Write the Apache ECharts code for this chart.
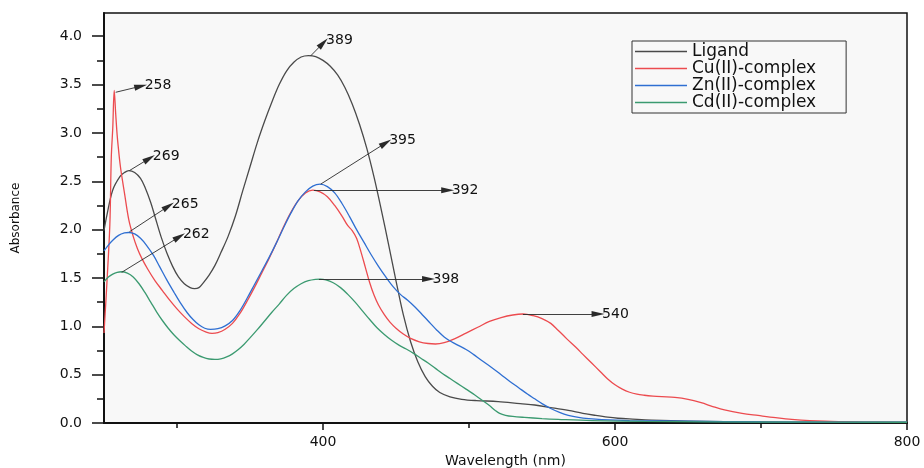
<!DOCTYPE html>
<html>
<head>
<meta charset="utf-8">
<script src="https://cdn.jsdelivr.net/npm/echarts@6/dist/echarts.min.js"></script>
<style>
html,body{margin:0;padding:0;background:#fff;}
#c{width:924px;height:468px;}
</style>
</head>
<body>
<div id="c"></div>
<script>
// ---- data ----
var seriesNames = ['Ligand', 'Cu(II)-complex', 'Zn(II)-complex', 'Cd(II)-complex'];

var ligandWl = [250,252,256,261,264,267,271,275,278,282,285,289,293,297,301,305,309,312,315,318,322,326,330,335,340,345,350,355,360,365,370,375,380,385,390,395,400,405,410,415,420,425,430,435,440,445,450,455,460,465,470,475,480,487,495,505,520,535,545,556,568,578,586,595,602,612,625,650,700,750,800];
var ligandAbs = [1.99,2.15,2.41,2.55,2.59,2.61,2.59,2.53,2.44,2.28,2.13,1.93,1.76,1.62,1.51,1.44,1.40,1.39,1.40,1.45,1.53,1.63,1.76,1.93,2.14,2.40,2.65,2.90,3.12,3.32,3.50,3.64,3.73,3.785,3.80,3.79,3.75,3.69,3.60,3.47,3.30,3.09,2.84,2.54,2.20,1.84,1.47,1.12,0.84,0.63,0.48,0.38,0.315,0.27,0.245,0.232,0.222,0.20,0.186,0.16,0.13,0.10,0.08,0.06,0.049,0.04,0.03,0.02,0.012,0.008,0.005];

var cuWl = [250,252,254,255,256,257,258,259,260,261,262,264,267,270,273,276,280,285,290,295,300,305,310,315,320,324,328,333,338,343,348,353,358,363,368,373,378,383,388,393,398,403,408,413,417,420,423,426,429,432,435,438,442,446,450,455,460,466,472,477,483,490,498,506,514,522,530,537,544,550,556,561,567,573,578,584,590,595,600,605,610,615,620,626,632,641,650,659,667,675,687,698,710,721,744,770,800];
var cuAbs = [0.93,1.45,2.05,2.75,3.05,3.44,3.20,2.98,2.82,2.68,2.57,2.38,2.10,1.93,1.80,1.70,1.59,1.47,1.37,1.27,1.18,1.10,1.03,0.975,0.94,0.927,0.935,0.97,1.03,1.13,1.26,1.40,1.55,1.70,1.86,2.03,2.18,2.30,2.38,2.408,2.39,2.34,2.25,2.14,2.04,1.99,1.91,1.77,1.61,1.45,1.32,1.22,1.12,1.04,0.98,0.92,0.875,0.84,0.822,0.817,0.83,0.87,0.93,0.99,1.05,1.09,1.117,1.127,1.11,1.08,1.03,0.96,0.87,0.785,0.71,0.62,0.53,0.455,0.395,0.35,0.318,0.298,0.287,0.278,0.272,0.265,0.245,0.21,0.17,0.135,0.10,0.078,0.055,0.038,0.018,0.01,0.006];

var znWl = [250,253,256,260,264,267,271,275,279,284,288,293,298,302,307,311,315,319,323,328,333,338,343,348,353,358,363,368,373,378,383,388,393,398,403,408,413,418,423,428,433,438,443,448,453,458,463,468,473,478,483,488,493,498,503,508,515,522,528,534,540,545,550,556,562,568,575,582,591,610,650,700,800];
var znAbs = [1.78,1.84,1.89,1.94,1.965,1.97,1.955,1.91,1.84,1.73,1.62,1.48,1.35,1.25,1.14,1.07,1.015,0.98,0.968,0.975,1.005,1.06,1.16,1.29,1.43,1.57,1.71,1.86,2.02,2.17,2.30,2.39,2.45,2.47,2.445,2.38,2.27,2.14,2.00,1.87,1.74,1.62,1.51,1.41,1.33,1.27,1.20,1.12,1.04,0.96,0.89,0.84,0.80,0.76,0.71,0.655,0.58,0.50,0.43,0.365,0.30,0.25,0.20,0.15,0.11,0.08,0.058,0.045,0.035,0.025,0.018,0.012,0.008];

var cdWl = [250,253,256,259,262,266,270,274,278,282,286,290,294,298,302,306,310,314,318,322,326,330,334,338,342,346,350,355,360,365,370,375,380,385,390,395,398,402,407,412,417,422,427,432,437,442,447,452,457,462,467,472,477,482,487,492,498,504,509,514,518,521,525,530,538,550,561,584,620,700,800];
var cdAbs = [1.46,1.51,1.54,1.558,1.564,1.55,1.51,1.44,1.35,1.25,1.15,1.06,0.98,0.91,0.85,0.795,0.745,0.705,0.678,0.662,0.657,0.663,0.683,0.715,0.76,0.815,0.88,0.965,1.055,1.145,1.23,1.32,1.39,1.44,1.472,1.486,1.488,1.48,1.45,1.40,1.33,1.25,1.16,1.07,0.985,0.915,0.855,0.805,0.765,0.72,0.67,0.62,0.565,0.51,0.46,0.41,0.35,0.29,0.235,0.18,0.13,0.10,0.08,0.068,0.058,0.046,0.038,0.025,0.016,0.01,0.008];

// peak annotations: label, series index, peak point, arrow tip (data coordinates)
var peakLabels = ['258','269','265','262','389','395','392','398','540'];
var peakSeries = [1,0,2,3,0,2,1,3,1];
var peakWl   = [258.0,267.4,267.4,262.1,391.5,398.4,393.8,397.2,536.9];
var peakAbs  = [3.42,2.61,1.977,1.558,3.796,2.47,2.408,1.488,1.127];
var tipWl    = [275.2,281.1,294.2,301.7,400.2,443.0,485.4,472.3,588.4];
var tipAbs   = [3.483,2.736,2.243,1.926,3.93,2.897,2.408,1.488,1.127];

var yLabelVals = [0,0.5,1.0,1.5,2.0,2.5,3.0,3.5,4.0];
var yMinorVals = [0.25,0.75,1.25,1.75,2.25,2.75,3.25,3.75];
var xLabelVals = [400,600,800];
var xMinorVals = [300,500,700];

// ---- chart ----
var colors = ['#4a4a4a', '#ec4b4f', '#2f6fd2', '#3b9a70'];
var wls = [ligandWl, cuWl, znWl, cdWl];
var abss = [ligandAbs, cuAbs, znAbs, cdAbs];
var FONT = 'DejaVu Sans';

function pairs(a, b) { return a.map(function (v, i) { return [v, b[i]]; }); }

var series = seriesNames.map(function (n, si) {
  var ml = [];
  peakLabels.forEach(function (lab, k) {
    if (peakSeries[k] === si) {
      ml.push([{ name: lab, coord: [peakWl[k], peakAbs[k]] }, { coord: [tipWl[k], tipAbs[k]] }]);
    }
  });
  return {
    name: n,
    type: 'line',
    data: pairs(wls[si], abss[si]),
    symbol: 'none',
    showSymbol: false,
    smooth: 0.35,
    lineStyle: { color: colors[si], width: 1.3 },
    itemStyle: { color: colors[si] },
    emphasis: { disabled: true },
    markLine: {
      silent: true,
      animation: false,
      symbol: ['none', 'triangle'],
      symbolSize: [6, 13],
      precision: 3,
      lineStyle: { color: '#2a2a2a', width: 0.9, type: 'solid' },
      itemStyle: { color: '#111' },
      label: { show: true, position: 'end', formatter: '{b}', color: '#111', fontFamily: FONT, fontSize: 14, distance: 4, align: 'left', verticalAlign: 'middle' },
      emphasis: { disabled: true },
      data: ml
    }
  };
});

var chart = echarts.init(document.getElementById('c'), null, { renderer: 'canvas' });
chart.setOption({
  animation: false,
  backgroundColor: '#ffffff',
  grid: { left: 104, right: 17, top: 13, bottom: 45, show: true, backgroundColor: '#f8f8f8', borderColor: '#111', borderWidth: 1.5, containLabel: false, outerBoundsMode: 'none' },
  legend: {
    orient: 'vertical', left: 632, top: 41,
    data: seriesNames,
    icon: 'rect',
    itemWidth: 52, itemHeight: 1.5, itemGap: 0,
    padding: [2, 30, 2, 3],
    borderColor: '#333', borderWidth: 1, backgroundColor: '#f8f8f8',
    textStyle: { fontFamily: FONT, fontSize: 17, color: '#111', lineHeight: 17 },
    selectedMode: false
  },
  xAxis: [{
    type: 'value', min: 250, max: 800,
    name: 'Wavelength (nm)', nameLocation: 'middle', nameGap: 31, nameMoveOverlap: false,
    nameTextStyle: { fontFamily: FONT, fontSize: 14, color: '#111' },
    axisLine: { show: true, onZero: false, lineStyle: { color: '#111', width: 2 } },
    axisTick: { show: true, inside: false, length: 7, customValues: xLabelVals, lineStyle: { color: '#111', width: 1.5 } },
    axisLabel: { customValues: xLabelVals, margin: 12, fontFamily: FONT, fontSize: 14, color: '#111' },
    splitLine: { show: false }
  }, {
    type: 'value', min: 250, max: 800, position: 'bottom',
    axisLine: { show: false },
    axisTick: { show: true, inside: false, length: 5, customValues: xMinorVals, lineStyle: { color: '#111', width: 1.5 } },
    axisLabel: { show: false },
    splitLine: { show: false }
  }],
  yAxis: [{
    type: 'value', min: 0, max: 4.24,
    name: 'Absorbance', nameLocation: 'middle', nameGap: 82, nameMoveOverlap: false,
    nameTextStyle: { fontFamily: FONT, fontSize: 12, color: '#111' },
    axisLine: { show: true, onZero: false, lineStyle: { color: '#111', width: 2 } },
    axisTick: { show: true, inside: false, length: 12, customValues: yLabelVals, lineStyle: { color: '#111', width: 1.5 } },
    axisLabel: { customValues: yLabelVals, margin: 22, fontFamily: FONT, fontSize: 14, color: '#111', formatter: function (v) { return v.toFixed(1); } },
    splitLine: { show: false }
  }, {
    type: 'value', min: 0, max: 4.24, position: 'left',
    axisLine: { show: false },
    axisTick: { show: true, inside: false, length: 7, customValues: yMinorVals, lineStyle: { color: '#111', width: 1.5 } },
    axisLabel: { show: false },
    splitLine: { show: false }
  }],
  series: series
});
</script>
</body>
</html>
